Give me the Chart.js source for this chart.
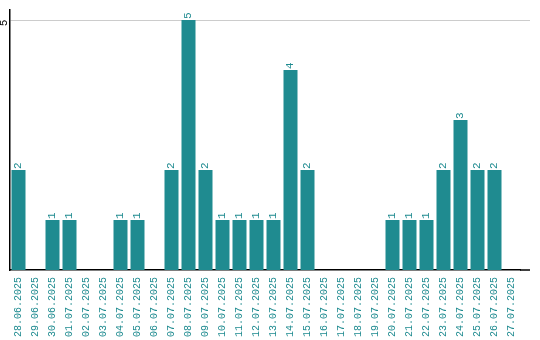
<!DOCTYPE html>
<html>
<head>
<meta charset="utf-8">
<script src="https://cdn.jsdelivr.net/npm/chart.js@4"></script>
<style>
  html, body { margin: 0; padding: 0; background: #fff; }
  #wrap { width: 540px; height: 340px; }
</style>
</head>
<body>
<div id="wrap"><canvas id="chart"></canvas></div>
<script>
const days = [
  '28.06.2025', '29.06.2025', '30.06.2025', '01.07.2025', '02.07.2025', '03.07.2025',
  '04.07.2025', '05.07.2025', '06.07.2025', '07.07.2025', '08.07.2025', '09.07.2025',
  '10.07.2025', '11.07.2025', '12.07.2025', '13.07.2025', '14.07.2025', '15.07.2025',
  '16.07.2025', '17.07.2025', '18.07.2025', '19.07.2025', '20.07.2025', '21.07.2025',
  '22.07.2025', '23.07.2025', '24.07.2025', '25.07.2025', '26.07.2025', '27.07.2025'
];
const counts = [2, 0, 1, 1, 0, 0, 1, 1, 0, 2, 5, 2, 1, 1, 1, 1, 4, 2, 0, 0, 0, 0, 1, 1, 1, 2, 3, 2, 2, 0];
const yTicks = [5];

const teal = '#1f8b90';
const mono = 'Liberation Mono';

// value labels above bars + y tick text + axis line extension
const extras = {
  id: 'extras',
  afterDatasetsDraw(chart) {
    const ctx = chart.ctx;
    const meta = chart.getDatasetMeta(0);
    ctx.save();
    ctx.font = '11px ' + mono;
    ctx.fillStyle = teal;
    ctx.textAlign = 'left';
    ctx.textBaseline = 'middle';
    meta.data.forEach((bar, i) => {
      if (!counts[i]) return;
      ctx.save();
      ctx.translate(bar.x, bar.y - 1);
      ctx.rotate(-Math.PI / 2);
      ctx.fillText(String(counts[i]), 0, 0);
      ctx.restore();
    });
    const y = chart.scales.y;
    ctx.fillStyle = '#000';
    ctx.textAlign = 'center';
    yTicks.forEach(v => {
      ctx.save();
      ctx.translate(4, y.getPixelForValue(v) + 3);
      ctx.rotate(-Math.PI / 2);
      ctx.fillText(String(v), 0, 0);
      ctx.restore();
    });
    const a = chart.chartArea;
    ctx.strokeStyle = '#cccccc';
    ctx.lineWidth = 1;
    ctx.beginPath();
    ctx.moveTo(a.right, Math.round(y.getPixelForValue(5)) + 0.5);
    ctx.lineTo(a.right + 10, Math.round(y.getPixelForValue(5)) + 0.5);
    ctx.stroke();
    ctx.strokeStyle = '#000';
    ctx.lineWidth = 1.5;
    ctx.beginPath();
    ctx.moveTo(a.right, a.bottom);
    ctx.lineTo(a.right + 10, a.bottom);
    ctx.stroke();
    ctx.restore();
  }
};

new Chart(document.getElementById('chart'), {
  type: 'bar',
  data: {
    labels: days,
    datasets: [{
      data: counts,
      backgroundColor: teal,
      borderWidth: 0,
      categoryPercentage: 1,
      barPercentage: 14 / 17
    }]
  },
  options: {
    responsive: true,
    maintainAspectRatio: false,
    animation: false,
    layout: { padding: { top: 10, right: 20, left: 0, bottom: 0 } },
    plugins: { legend: { display: false }, tooltip: { enabled: false } },
    scales: {
      x: {
        offset: true,
        grid: { display: false, drawTicks: false },
        border: { color: '#000', width: 1.5 },
        ticks: {
          color: teal,
          font: { size: 10, family: mono },
          minRotation: 90,
          maxRotation: 90,
          autoSkip: false,
          padding: 7
        },
        afterFit(scale) { scale.height = 70; }
      },
      y: {
        min: 0,
        max: 5.2,
        afterBuildTicks(scale) { scale.ticks = yTicks.map(v => ({ value: v })); },
        grid: { color: '#cccccc', drawTicks: false },
        border: { color: '#000', width: 1.5 },
        ticks: { display: false },
        afterFit(scale) { scale.width = 10; }
      }
    }
  },
  plugins: [extras]
});
</script>
</body>
</html>
